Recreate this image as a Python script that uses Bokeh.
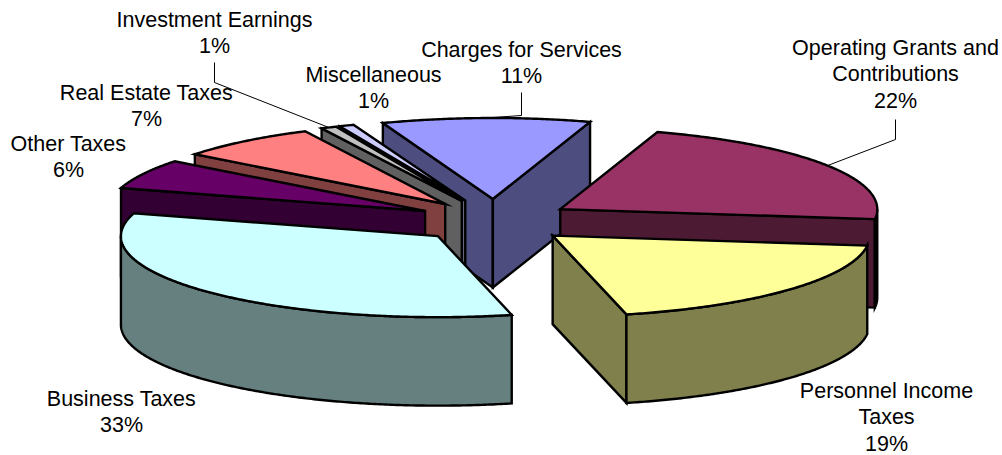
import numpy as np
from bokeh.plotting import figure
from bokeh.models import ColumnDataSource, Range1d
from bokeh.core.properties import value
from bokeh.embed import file_html
from bokeh.resources import INLINE

# Data, clockwise from the first slice (percent)
categories = ["Charges for Services", "Operating Grants and Contributions",
              "Personnel Income Taxes", "Business Taxes", "Other Taxes",
              "Real Estate Taxes", "Investment Earnings", "Miscellaneous"]
shares = [10.6, 22.0, 19.3, 33.3, 5.95, 7.2, 0.8, 0.75]
top_colors = ["#9999FF", "#993366", "#FFFF99", "#CCFFFF", "#660066", "#FF8080", "#C0C0C0", "#CCCCFF"]
side_colors = ["#4D4D80", "#4D1A33", "#80804D", "#668080", "#330033", "#804040", "#606060", "#666680"]

# Label lines and where they sit
label_lines = [["Charges for Services", "11%"],
               ["Operating Grants and", "Contributions", "22%"],
               ["Personnel Income", "Taxes", "19%"],
               ["Business Taxes", "33%"],
               ["Other Taxes", "6%"],
               ["Real Estate Taxes", "7%"],
               ["Investment Earnings", "1%"],
               ["Miscellaneous", "1%"]]
label_x = [521, 895, 886, 121, 68, 146, 214, 373]
label_y = [50.5, 48.5, 391.5, 399, 144.5, 93.5, 20.5, 75.5]
LINE_H = 26.3

# 3D pie projection (page pixels)
CX, CY = 494, 220.5    # common centre
RX, RY = 317, 81       # ellipse radii
EX, EY = 78, 22        # explosion
DEPTH = 88.5
START = -20.3          # degrees clockwise from straight up


def rim(cx, cy, deg):
    t = np.radians(deg)
    return cx + RX * np.sin(t), cy - RY * np.cos(t)


def arc(cx, cy, a, b, dy=0.0):
    n = max(2, int(abs(b - a)) * 2 + 2)
    d = np.linspace(a, b, n)
    x, y = rim(cx, cy, d)
    return list(x), list(y + dy)


xs, ys, fills = [], [], []


def add(x, y, c):
    xs.append(list(x))
    ys.append(list(y))
    fills.append(c)


geo = []
a = START
for s in shares:
    b = a + s * 3.6
    m = (a + b) / 2
    t = np.radians(m)
    geo.append((a, b, m, CX + EX * np.sin(t), CY - EY * np.cos(t)))
    a = b

# back to front: Charges, Operating, then the small rear slices, then the front ones
order = [0, 1, 7, 6, 5, 4, 2, 3]
for i in order:
    a, b, m, cx, cy = geo[i]
    sa, sb = np.sin(np.radians(a)), np.sin(np.radians(b))
    # radial walls
    for deg, vis in ((a, sa < 0), (b, sb > 0)):
        if vis:
            rx_, ry_ = rim(cx, cy, deg)
            add([cx, rx_, rx_, cx], [cy, ry_, ry_ + DEPTH, cy + DEPTH], side_colors[i])
    # outer wall: only the front half of the rim
    lo, hi = max(a, 90), min(b, 270)
    if lo < hi:
        x1, y1 = arc(cx, cy, lo, hi)
        x2, y2 = arc(cx, cy, hi, lo, DEPTH)
        add(x1 + x2, y1 + y2, side_colors[i])
    # top
    x1, y1 = arc(cx, cy, a, b)
    add([cx] + x1, [cy] + y1, top_colors[i])

p = figure(width=1002, height=455, output_backend="svg", toolbar_location=None,
           x_range=Range1d(0, 1002), y_range=Range1d(455, 0),
           min_border=0, outline_line_color=None, background_fill_color="white",
           border_fill_color="white")
p.axis.visible = False
p.grid.visible = False

# Leader lines to the rim of their slices
lead_x, lead_y = [], []
for i, knee in ((0, (521, 92, 115)), (1, (895, 119, 139)), (6, (214, 62, 82))):
    a, b, m, cx, cy = geo[i]
    ex, ey = rim(cx, cy, m)
    lead_x.append([knee[0], knee[0], float(ex)])
    lead_y.append([knee[1], knee[2], float(ey)])

p.patches(xs="xs", ys="ys", fill_color="fill", line_color="black", line_width=2.4,
          line_join="miter", source=ColumnDataSource(dict(xs=xs, ys=ys, fill=fills)))
p.multi_line(lead_x, lead_y, line_color="black", line_width=1)

tx, ty, tt = [], [], []
for lines, lx, ly in zip(label_lines, label_x, label_y):
    for k, line in enumerate(lines):
        tx.append(lx)
        ty.append(ly - 1 + k * LINE_H)
        tt.append(line)
p.text(x="x", y="y", text="t", source=ColumnDataSource(dict(x=tx, y=ty, t=tt)),
       text_font=value("Liberation Sans"), text_font_size="21.5px", text_color="black",
       text_align="center", text_baseline="middle")

open("out.html", "w").write(file_html(p, INLINE))
